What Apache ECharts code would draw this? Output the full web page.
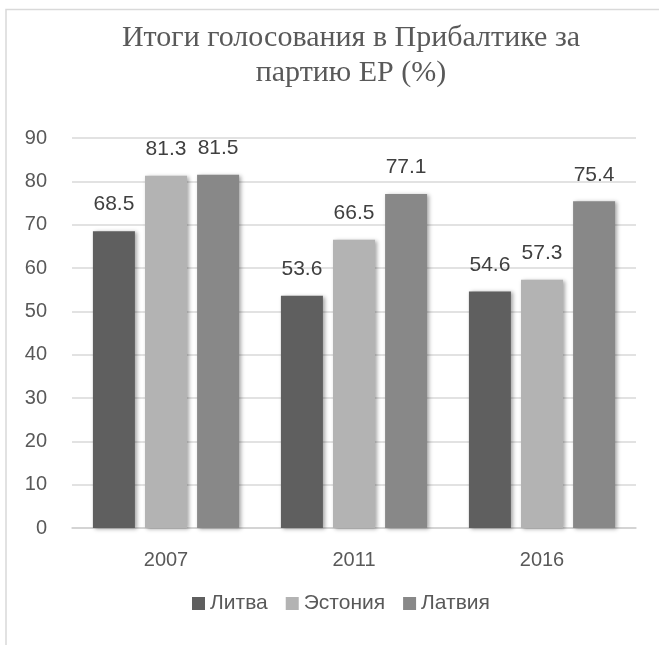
<!DOCTYPE html>
<html>
<head>
<meta charset="utf-8">
<script src="https://cdn.jsdelivr.net/npm/echarts@6/dist/echarts.min.js"></script>
<style>html,body{margin:0;padding:0;background:#fff;}#c{width:659px;height:645px;}</style>
</head>
<body>
<div id="c"></div>
<script>
const titleText = 'Итоги голосования в Прибалтике за\nпартию ЕР (%)';
const categories = ['2007', '2011', '2016'];
const seriesNames = ['Литва', 'Эстония', 'Латвия'];
const lithuania = [68.5, 53.6, 54.6];
const estonia = [81.3, 66.5, 57.3];
const latvia = [81.5, 77.1, 75.4];
const colors = ['#5f5f5f', '#b3b3b3', '#888888'];

const chart = echarts.init(document.getElementById('c'), null, {renderer: 'canvas'});
const labelFont = 'Liberation Sans';
function mkSeries(name, data, color) {
  return {
    name: name,
    type: 'bar',
    data: data,
    barWidth: 42,
    barGap: '24%',
    itemStyle: {color: color, shadowBlur: 4, shadowColor: 'rgba(0,0,0,0.35)', shadowOffsetX: 2, shadowOffsetY: 1},
    label: {show: true, position: 'top', distance: 16, fontSize: 21, fontFamily: labelFont, color: '#404040'}
  };
}
chart.setOption({
  backgroundColor: '#fff',
  animation: false,
  color: colors,
  title: {
    text: titleText,
    left: 351,
    top: 21,
    padding: 0,
    textAlign: 'center',
    textStyle: {fontFamily: 'Liberation Serif', fontSize: 30, fontWeight: 'normal', color: '#595959', lineHeight: 35}
  },
  graphic: [{
    type: 'polyline',
    shape: {points: [[6, 645], [6, 9.5], [659, 9.5]]},
    style: {stroke: '#d9d9d9', lineWidth: 1.5, fill: null},
    silent: true
  }],
  legend: {
    data: seriesNames,
    bottom: 31,
    left: 192,
    padding: 0,
    itemWidth: 13,
    itemHeight: 13,
    itemGap: 18,
    icon: 'rect',
    textStyle: {fontFamily: labelFont, fontSize: 21, color: '#595959'}
  },
  grid: {left: 72, right: 23, top: 138, bottom: 117, containLabel: false},
  xAxis: {
    type: 'category',
    data: categories,
    axisTick: {show: false},
    axisLine: {lineStyle: {color: '#d0d0d0', width: 1.5}},
    axisLabel: {fontFamily: labelFont, fontSize: 20, color: '#595959', margin: 22}
  },
  yAxis: {
    type: 'value',
    min: 0, max: 90, interval: 10,
    axisLine: {show: false},
    axisTick: {show: false},
    splitLine: {lineStyle: {color: '#d9d9d9', width: 1.5}},
    axisLabel: {fontFamily: labelFont, fontSize: 20, color: '#595959', margin: 25}
  },
  series: [
    mkSeries(seriesNames[0], lithuania, colors[0]),
    mkSeries(seriesNames[1], estonia, colors[1]),
    mkSeries(seriesNames[2], latvia, colors[2])
  ]
});
</script>
</body>
</html>
